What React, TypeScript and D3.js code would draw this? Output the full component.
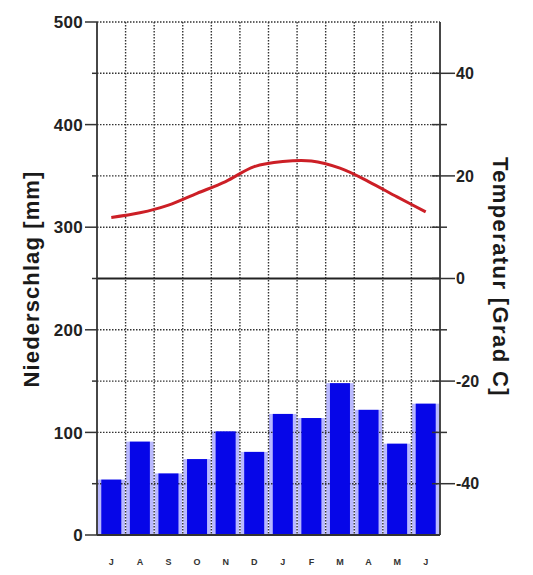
import React from 'react';
import * as d3 from 'd3';

const months = ['J', 'A', 'S', 'O', 'N', 'D', 'J', 'F', 'M', 'A', 'M', 'J'];
const precipitation = [54, 91, 60, 74, 101, 81, 118, 114, 148, 122, 89, 128];
const temperature = [11.9, 12.8, 14.3, 16.6, 18.9, 21.8, 22.8, 22.9, 21.5, 18.9, 15.9, 13.0];
const precipTicks = [0, 100, 200, 300, 400, 500];
const precipMinor = [50, 150, 250, 350, 450];
const tempTicks = [-40, -20, 0, 20, 40];
const tempMinor = [-30, -10, 10, 30];

const W = 533;
const H = 575;
const margin = { top: 22, right: 93, bottom: 40, left: 97 };

const App: React.FC = () => {
  const x0 = margin.left;
  const x1 = W - margin.right;
  const yTop = margin.top;
  const yBot = H - margin.bottom;

  const idx = months.map((_, i) => i);
  const slot = d3.scaleBand<number>().domain(idx).range([x0, x1]).padding(0);
  const bar = d3
    .scaleBand<number>()
    .domain(idx)
    .range([x0, x1])
    .paddingInner(0.3)
    .paddingOuter(0.15);

  const yP = d3.scaleLinear().domain([0, 500]).range([yBot, yTop]);
  const yT = d3.scaleLinear().domain([-50, 50]).range([yBot, yTop]);

  const line = d3
    .line<number>()
    .x((_, i) => (slot(i) as number) + slot.bandwidth() / 2)
    .y(d => yT(d))
    .curve(d3.curveCatmullRom.alpha(0.5));

  const gridColor = '#333';
  const font = '"Liberation Sans", Arial, sans-serif';

  return (
    <svg
      width={W}
      height={H}
      style={{ position: 'absolute', left: 0, top: 0, background: '#fff' }}
    >
      {/* light halo columns */}
      {precipitation.map((d, i) => (
        <rect
          key={'lb' + i}
          x={(slot(i) as number) + 0.5}
          y={yP(d)}
          width={slot.bandwidth() - 1}
          height={yBot - yP(d)}
          fill="#b9b9ff"
        />
      ))}

      {/* horizontal grid */}
      {[...precipTicks, ...precipMinor]
        .filter(v => v !== 0 && v !== 250)
        .map(v => (
          <line
            key={'hg' + v}
            x1={x0}
            x2={x1}
            y1={yP(v)}
            y2={yP(v)}
            stroke={gridColor}
            strokeWidth={1.4}
            strokeDasharray="1.5,1.5"
          />
        ))}

      {/* vertical grid */}
      {idx.slice(1).map(i => (
        <line
          key={'vg' + i}
          x1={slot(i)}
          x2={slot(i)}
          y1={yTop}
          y2={yBot}
          stroke={gridColor}
          strokeWidth={1.4}
          strokeDasharray="1.5,1.5"
        />
      ))}

      {/* zero temperature line */}
      <line x1={x0} x2={x1} y1={yT(0)} y2={yT(0)} stroke="#222" strokeWidth={1.8} />

      {/* bars */}
      {precipitation.map((d, i) => (
        <rect
          key={'b' + i}
          x={bar(i)}
          y={yP(d)}
          width={bar.bandwidth()}
          height={yBot - yP(d)}
          fill="#0606e8"
        />
      ))}

      {/* temperature curve */}
      <path d={line(temperature) || ''} fill="none" stroke="#cc1f26" strokeWidth={3} />

      {/* axes frame */}
      <line x1={x0} x2={x0} y1={yTop} y2={yBot} stroke="#333" strokeWidth={1.8} />
      <line x1={x1} x2={x1} y1={yTop} y2={yBot} stroke="#333" strokeWidth={1.8} />
      <line x1={x0} x2={x1} y1={yBot} y2={yBot} stroke="#333" strokeWidth={1.8} />

      {/* left ticks */}
      {precipTicks.map(v => (
        <g key={'lt' + v}>
          <line x1={x0 - 12} x2={x0} y1={yP(v)} y2={yP(v)} stroke="#333" strokeWidth={1.5} />
          <text
            x={x0 - 14}
            y={yP(v)}
            dy="0.36em"
            textAnchor="end"
            fontFamily={font}
            fontWeight="bold"
            fontSize={17}
            letterSpacing={0.3}
            fill="#222"
          >
            {v}
          </text>
        </g>
      ))}
      {precipMinor.map(v => (
        <line key={'lm' + v} x1={x0 - 5} x2={x0} y1={yP(v)} y2={yP(v)} stroke="#333" strokeWidth={1.5} />
      ))}

      {/* right ticks */}
      {tempTicks.map(v => (
        <g key={'rt' + v}>
          <line x1={x1 - 8} x2={x1 + 15} y1={yT(v)} y2={yT(v)} stroke="#333" strokeWidth={1.5} />
          <text
            x={x1 + 16}
            y={yT(v)}
            dy="0.36em"
            textAnchor="start"
            fontFamily={font}
            fontWeight="bold"
            fontSize={16}
            fill="#222"
          >
            {v}
          </text>
        </g>
      ))}
      {tempMinor.map(v => (
        <line key={'rm' + v} x1={x1 - 8} x2={x1 + 7} y1={yT(v)} y2={yT(v)} stroke="#333" strokeWidth={1.5} />
      ))}

      {/* month labels */}
      {months.map((m, i) => (
        <text
          key={'m' + i}
          x={(slot(i) as number) + slot.bandwidth() / 2}
          y={yBot + 30}
          textAnchor="middle"
          fontFamily={font}
          fontWeight="bold"
          fontSize={9}
          fill="#333"
        >
          {m}
        </text>
      ))}

      {/* axis titles */}
      <text
        transform={`translate(39, 279) rotate(-90)`}
        textAnchor="middle"
        fontFamily={font}
        fontWeight="bold"
        fontSize={22}
        letterSpacing={1.1}
        fill="#1a1a1a"
      >
        Niederschlag [mm]
      </text>
      <text
        transform={`translate(493, 277) rotate(90)`}
        textAnchor="middle"
        fontFamily={font}
        fontWeight="bold"
        fontSize={22}
        letterSpacing={1.4}
        fill="#1a1a1a"
      >
        Temperatur [Grad C]
      </text>
    </svg>
  );
};

export default App;
